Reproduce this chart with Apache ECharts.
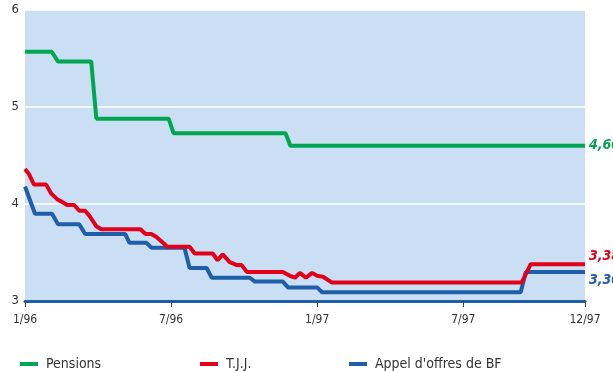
<!DOCTYPE html>
<html>
<head>
<meta charset="utf-8">
<script src="https://cdn.jsdelivr.net/npm/echarts@6/dist/echarts.min.js"></script>
<style>
  html, body { margin: 0; padding: 0; background: #fff; }
  #chart { width: 613px; height: 371px; }
</style>
</head>
<body>
<div id="chart"></div>
<script>
// months since 1/96 on x, rate (%) on y
const pensions = [
  [0, 5.57], [1.1, 5.57], [1.35, 5.47], [2.72, 5.47], [2.93, 4.88], [5.9, 4.88],
  [6.1, 4.73], [10.7, 4.73], [10.9, 4.60], [23, 4.60]
];
const tjj = [
  [0, 4.36], [0.16, 4.31], [0.37, 4.20], [0.87, 4.20], [1.07, 4.11], [1.32, 4.05],
  [1.53, 4.02], [1.73, 3.99], [2.02, 3.99], [2.23, 3.93], [2.47, 3.93], [2.64, 3.88],
  [2.93, 3.77], [3.13, 3.74], [4.74, 3.74], [4.95, 3.69], [5.19, 3.69], [5.40, 3.66],
  [5.85, 3.56], [6.76, 3.56], [6.97, 3.49], [7.71, 3.49], [7.91, 3.42], [8.12, 3.48],
  [8.41, 3.40], [8.70, 3.37], [8.90, 3.37], [9.11, 3.30], [10.59, 3.30], [10.88, 3.26],
  [11.09, 3.24], [11.29, 3.29], [11.54, 3.24], [11.79, 3.29], [12.0, 3.26], [12.24, 3.25],
  [12.61, 3.19], [20.4, 3.19], [20.77, 3.38], [23, 3.38]
];
const appel = [
  [0, 4.18], [0.41, 3.90], [1.11, 3.90], [1.36, 3.79], [2.23, 3.79], [2.47, 3.69],
  [4.12, 3.69], [4.29, 3.60], [4.99, 3.60], [5.19, 3.55], [6.55, 3.55], [6.76, 3.34],
  [7.46, 3.34], [7.67, 3.24], [9.23, 3.24], [9.44, 3.20], [10.59, 3.20], [10.80, 3.14],
  [12.0, 3.14], [12.2, 3.09], [20.36, 3.09], [20.57, 3.30], [23, 3.30]
];
const tickMonths = [0, 6, 12, 18, 23];
const tickLabels = ['1/96', '7/96', '1/97', '7/97', '12/97'];
const endTexts = ['4,60', '3,38', '3,30'];

const font = "'Liberation Sans Narrow', 'DejaVu Sans Condensed', 'Roboto', sans-serif";
const GREEN = '#00a651', RED = '#e2001a', BLUE = '#1f5fa9';

const chart = echarts.init(document.getElementById('chart'));

function mkSeries(name, data, color, endText, z, dy) {
  return {
    name: name,
    type: 'line',
    data: data,
    showSymbol: false,
    z: z,
    lineStyle: { color: color, width: 4 },
    itemStyle: { color: color },
    endLabel: {
      show: true,
      formatter: endText,
      color: color,
      fontFamily: font,
      fontSize: 14,
      fontStyle: 'italic',
      fontWeight: 'bold',
      distance: 4,
      offset: [0, dy]
    }
  };
}

function mkLegend(name, left) {
  return {
    data: [name],
    left: left,
    top: 352,
    icon: 'rect',
    itemWidth: 18,
    itemHeight: 4,
    textStyle: { fontFamily: font, fontSize: 14, color: '#333', padding: [0, 0, 0, 3] }
  };
}

chart.setOption({
  animation: false,
  grid: {
    left: 25, right: 28, top: 10, bottom: 70,
    show: true, backgroundColor: '#cadff3', borderWidth: 0
  },
  legend: [
    mkLegend('Pensions', 15),
    mkLegend('T.J.J.', 195),
    mkLegend("Appel d'offres de BF", 344)
  ],
  xAxis: {
    type: 'value',
    min: 0,
    max: 23,
    axisLine: { show: true, lineStyle: { color: BLUE, width: 3 } },
    axisTick: {
      show: true, length: 6, customValues: tickMonths,
      lineStyle: { color: '#444', width: 1 }
    },
    axisLabel: {
      customValues: tickMonths,
      formatter: function (v) { return tickLabels[tickMonths.indexOf(v)]; },
      fontFamily: font, fontSize: 12, color: '#333', margin: 13
    },
    splitLine: { show: false }
  },
  yAxis: {
    type: 'value',
    min: 3,
    max: 6,
    interval: 1,
    axisLine: { show: false },
    axisTick: { show: false },
    axisLabel: { fontFamily: font, fontSize: 13, color: '#333', margin: 6 },
    splitLine: { show: true, lineStyle: { color: '#ffffff', width: 1.5 } }
  },
  series: [
    mkSeries('Pensions', pensions, GREEN, endTexts[0], 3, 0),
    mkSeries('T.J.J.', tjj, RED, endTexts[1], 5, -8),
    mkSeries("Appel d'offres de BF", appel, BLUE, endTexts[2], 4, 8)
  ]
});
</script>
</body>
</html>
